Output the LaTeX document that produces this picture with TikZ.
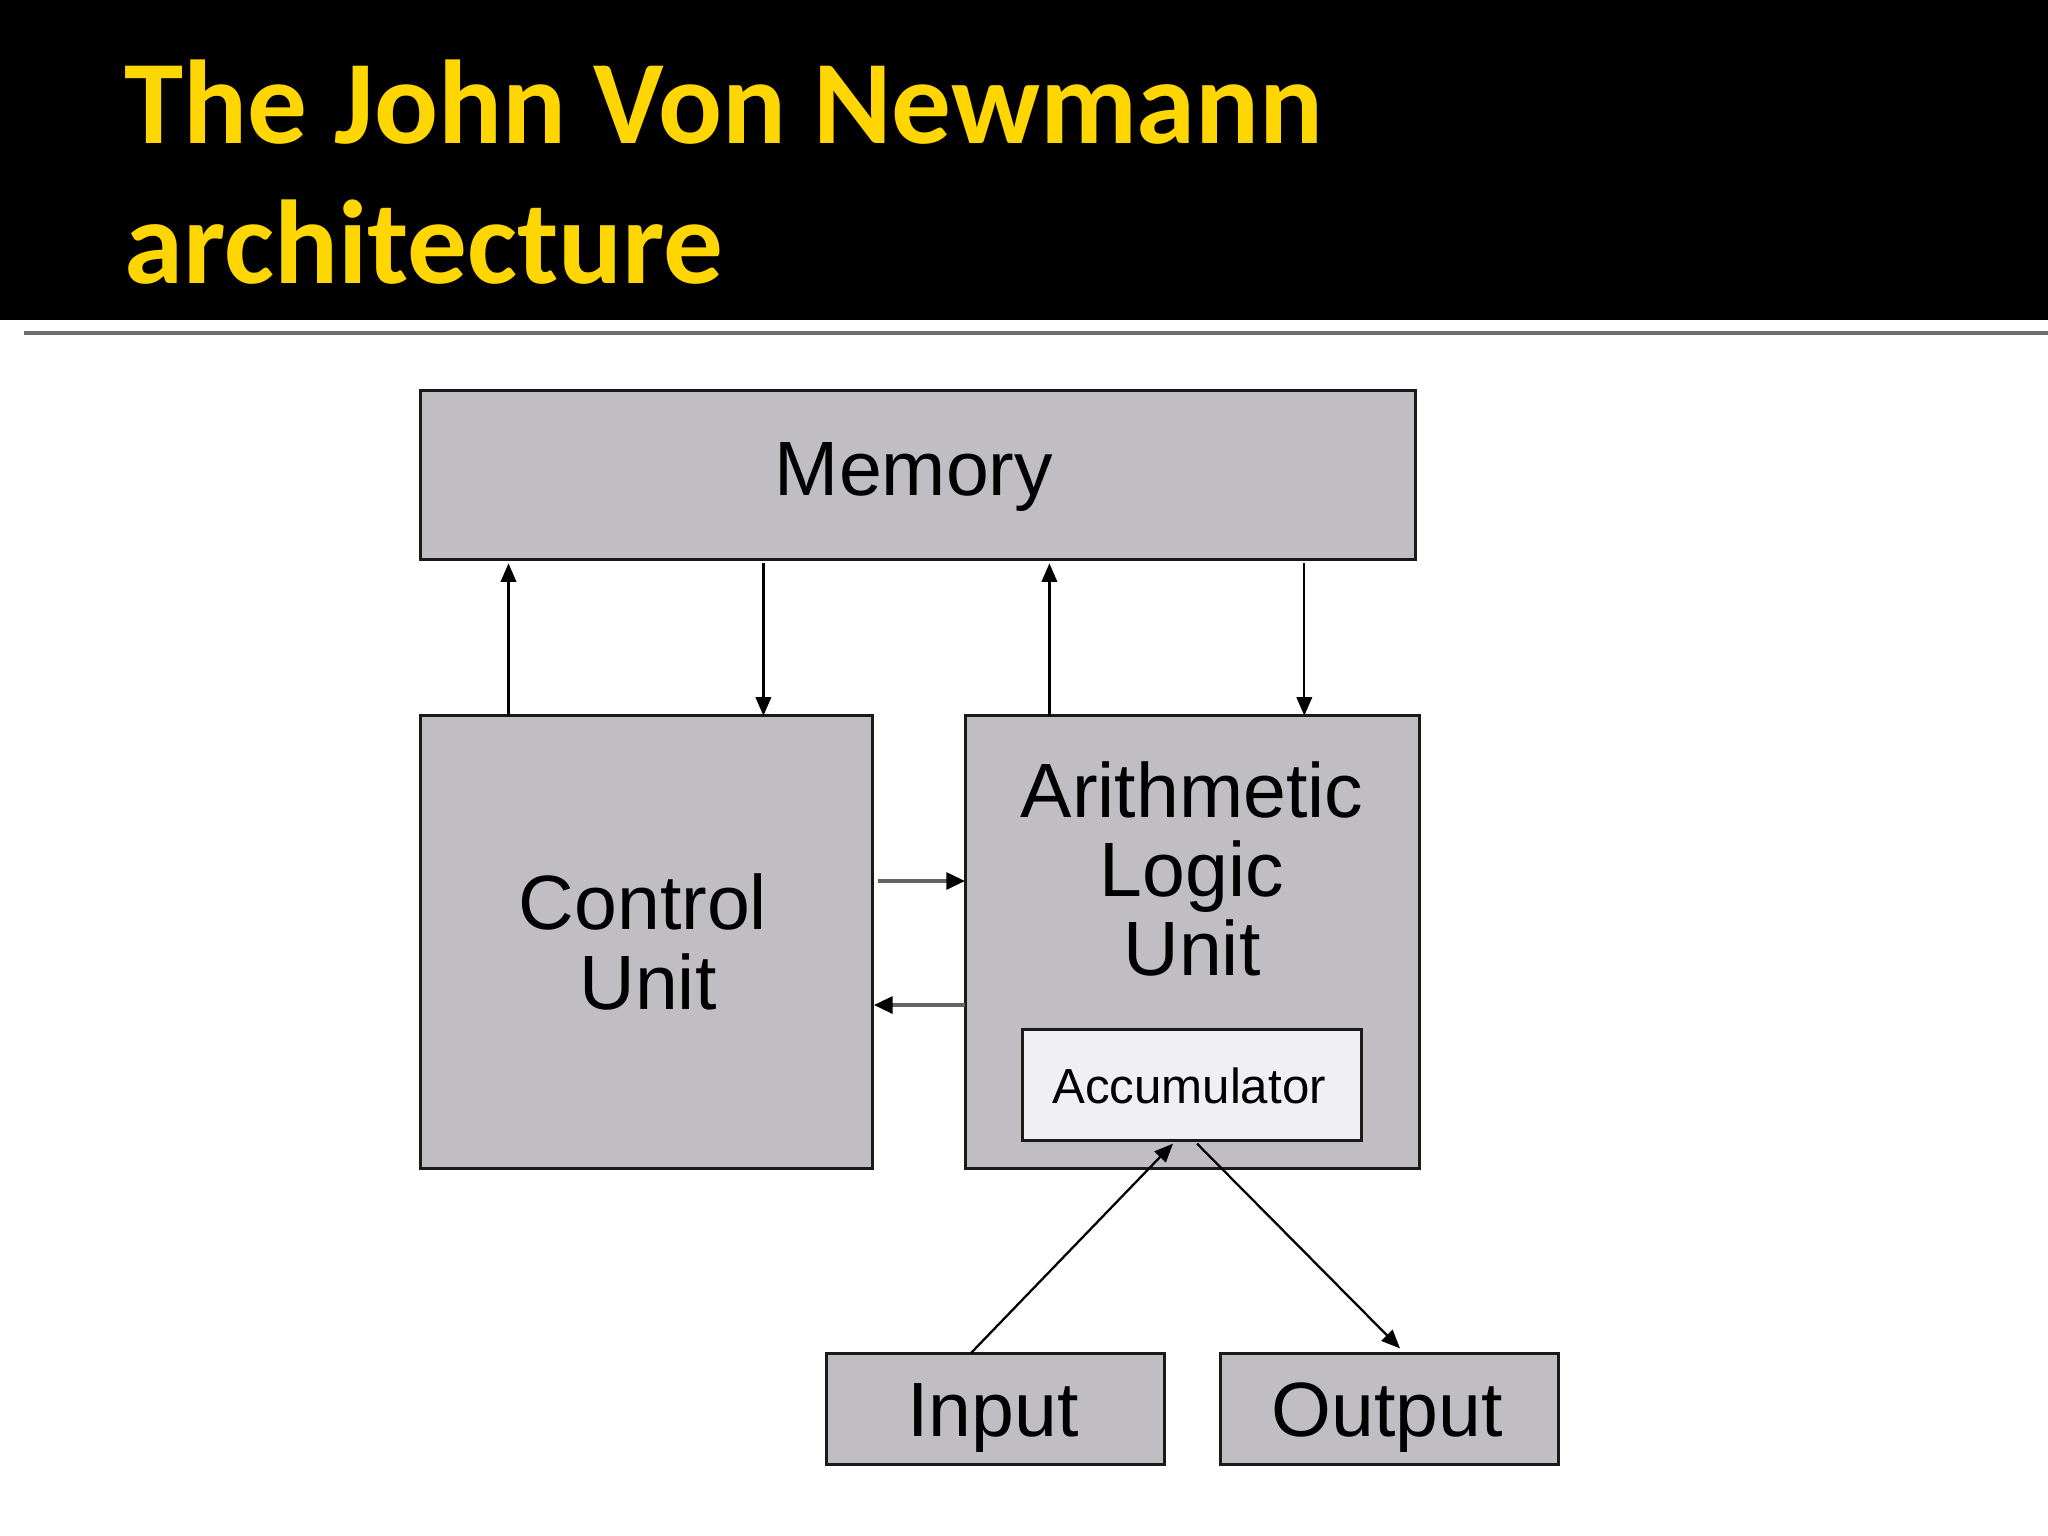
\documentclass[tikz,border=0pt]{standalone}
\usepackage{fontspec}
\setmainfont{Liberation Sans}
\newfontfamily\titlefont{Carlito}
\usetikzlibrary{arrows.meta}
\definecolor{boxgray}{RGB}{192,190,194}
\definecolor{accfill}{RGB}{240,239,242}
\definecolor{edgedark}{RGB}{26,26,26}
\definecolor{titleyellow}{RGB}{255,214,0}
\definecolor{rulegray}{RGB}{110,110,110}
\definecolor{hgray}{RGB}{100,100,100}
\tikzset{
  unitbox/.style={draw=edgedark, fill=boxgray, line width=0.85pt, rectangle, anchor=north west, inner sep=0pt, outer sep=0pt},
  accbox/.style={draw=edgedark, fill=accfill, line width=0.85pt, rectangle, anchor=north west, inner sep=0pt, outer sep=0pt},
  biglabel/.style={anchor=base, inner sep=0pt, font=\fontsize{21.9pt}{26pt}\selectfont},
  smalllabel/.style={anchor=base, inner sep=0pt, font=\fontsize{14pt}{16pt}\selectfont},
  titletext/.style={anchor=base west, inner sep=0pt, text=titleyellow, font=\titlefont\bfseries\fontsize{33.9pt}{40pt}\selectfont},
  arr/.style={draw=black, line width=0.65pt, -{Triangle[length=5.3pt,width=4.4pt]}},
  harr/.style={draw=hgray, line width=0.9pt, -{Triangle[length=5.3pt,width=4.8pt,color=black]}}
}
\begin{document}
\begin{tikzpicture}[x=0.01cm,y=-0.01cm]
\useasboundingbox (0,0) rectangle (2048,1536);
\fill[white] (0,0) rectangle (2048,1536);
% header
\fill[black] (0,0) rectangle (2048,320);
\node[titletext] (t1) at (124,143) {The John Von Newmann};
\node[titletext] (t2) at (124,283) {architecture};
\draw[rulegray, line width=0.9pt] (24,333) -- (2048,333);

% boxes
\node[unitbox, minimum width=9.94cm, minimum height=1.685cm] (mem) at (420.6,390.5) {};
\node[unitbox, minimum width=4.52cm, minimum height=4.53cm] (cu) at (420.6,715.7) {};
\node[unitbox, minimum width=4.54cm, minimum height=4.53cm] (alu) at (965,715.7) {};
\node[accbox, minimum width=3.39cm, minimum height=1.11cm] (acc) at (1022.7,1029) {};
\node[unitbox, minimum width=3.38cm, minimum height=1.11cm] (inp) at (826.7,1353) {};
\node[unitbox, minimum width=3.38cm, minimum height=1.11cm] (outp) at (1220,1353) {};

% labels
\node[biglabel] (memlab) at (914,495) {Memory};
\node[biglabel] (culab1) at (643,929) {Control};
\node[biglabel] (culab2) at (648,1009) {Unit};
\node[biglabel] (alulab1) at (1192,817) {Arithmetic};
\node[biglabel] (alulab2) at (1192,896) {Logic};
\node[biglabel] (alulab3) at (1192,975) {Unit};
\node[smalllabel] (acclab) at (1189,1103) {Accumulator};
\node[biglabel] (inlab) at (993,1436) {Input};
\node[biglabel] (outlab) at (1387,1436) {Output};

% vertical connectors
\draw[arr] (508.5,0 |- cu.north) -- ([yshift=-1.2pt]508.5,0 |- mem.south);
\draw[arr] ([yshift=-1.2pt]763.4,0 |- mem.south) -- (763.4,0 |- cu.north);
\draw[arr] (1049.4,0 |- alu.north) -- ([yshift=-1.2pt]1049.4,0 |- mem.south);
\draw[arr] ([yshift=-1.2pt]1304.3,0 |- mem.south) -- (1304.3,0 |- alu.north);

% horizontal connectors
\draw[harr] ([xshift=1.5pt]cu.east |- 0,881) -- (alu.west |- 0,881);
\draw[harr] (alu.west |- 0,1005) -- ([xshift=0.3pt]cu.east |- 0,1005);

% diagonal connectors
\draw[arr] (971,0 |- inp.north) -- ([yshift=-1pt]1173,0 |- acc.south);
\draw[arr] ([yshift=-1pt]1197,0 |- acc.south) -- ([yshift=1.3pt]1400,0 |- outp.north);
\end{tikzpicture}
\end{document}
